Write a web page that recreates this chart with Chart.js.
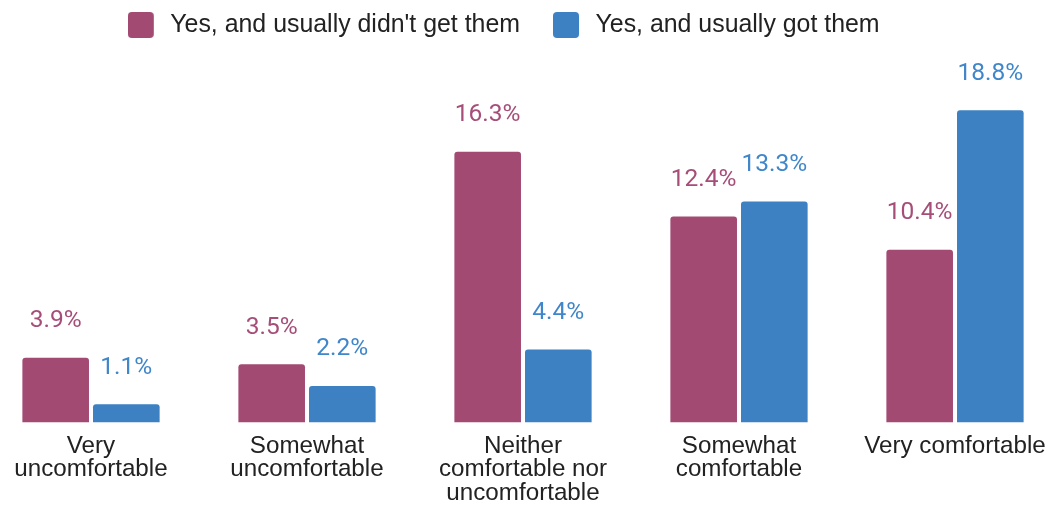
<!DOCTYPE html>
<html>
<head>
<meta charset="utf-8">
<script src="https://cdn.jsdelivr.net/npm/chart.js@4"></script>
<style>
  html, body { margin: 0; padding: 0; background: #fff; overflow: hidden; }
  #wrap { position: absolute; left: -17px; top: 0; width: 1080px; height: 506px; }
</style>
</head>
<body>
<div id="wrap"><canvas id="c"></canvas></div>
<script>
const categories = [
  ["Very", "uncomfortable"],
  ["Somewhat", "uncomfortable"],
  ["Neither", "comfortable nor", "uncomfortable"],
  ["Somewhat", "comfortable"],
  ["Very comfortable"]
];
const seriesNames = ["Yes, and usually didn't get them", "Yes, and usually got them"];
const didntGet = [3.9, 3.5, 16.3, 12.4, 10.4];
const got = [1.1, 2.2, 4.4, 13.3, 18.8];
const colors = ["#a34a73", "#3d81c3"];
const labelColors = ["#a64d78", "#3f86ca"];

function makeLegendImg(color) {
  const cv = document.createElement('canvas');
  cv.width = 30; cv.height = 26;
  const g = cv.getContext('2d');
  g.fillStyle = color;
  g.beginPath();
  g.roundRect(0, 0, 26, 26, 4);
  g.fill();
  return cv;
}
const legendImgs = colors.map(makeLegendImg);

const legendShift = {
  id: 'legendShift',
  afterLayout(chart) {
    const l = chart.legend;
    if (!l) return;
    l.left -= 19.3; l.right -= 19.3;
    l.top -= 20.5; l.bottom -= 20.5;
  }
};

const valueLabels = {
  id: 'valueLabels',
  afterDatasetsDraw(chart) {
    const ctx = chart.ctx;
    ctx.save();
    ctx.font = '24.5px Roboto';
    ctx.textAlign = 'center';
    ctx.textBaseline = 'alphabetic';
    chart.data.datasets.forEach((ds, di) => {
      const meta = chart.getDatasetMeta(di);
      ctx.fillStyle = labelColors[di];
      meta.data.forEach((el, i) => {
        ctx.fillText(ds.data[i].toFixed(1) + '%', el.x, el.y - 30.5);
      });
    });
    ctx.restore();
  }
};

Chart.defaults.font.family = "'Liberation Sans', Arial, sans-serif";

new Chart(document.getElementById('c'), {
  type: 'bar',
  data: {
    labels: categories,
    datasets: [
      { label: seriesNames[0], data: didntGet, backgroundColor: colors[0], borderRadius: 3,
        barPercentage: 0.943, categoryPercentage: 0.654 },
      { label: seriesNames[1], data: got, backgroundColor: colors[1], borderRadius: 3,
        barPercentage: 0.943, categoryPercentage: 0.654 }
    ]
  },
  options: {
    responsive: true,
    maintainAspectRatio: false,
    animation: false,
    layout: { padding: { top: 0, bottom: -11, left: 0, right: 0 } },
    plugins: {
      tooltip: { enabled: false },
      legend: {
        position: 'top',
        labels: {
          color: '#222',
          font: { size: 24.9 },
          usePointStyle: true,
          pointStyleWidth: 30,
          padding: 33,
          generateLabels(chart) {
            const items = Chart.defaults.plugins.legend.labels.generateLabels(chart);
            items.forEach((it, i) => { it.pointStyle = legendImgs[i]; });
            return items;
          }
        }
      }
    },
    scales: {
      x: {
        grid: { display: false, drawTicks: false },
        border: { display: false },
        ticks: {
          color: '#222',
          font: { size: 24.2, lineHeight: '23.5px' },
          padding: 12,
          maxRotation: 0,
          autoSkip: false
        }
      },
      y: {
        display: false,
        min: 0,
        max: 21.35
      }
    }
  },
  plugins: [legendShift, valueLabels]
});
</script>
</body>
</html>
